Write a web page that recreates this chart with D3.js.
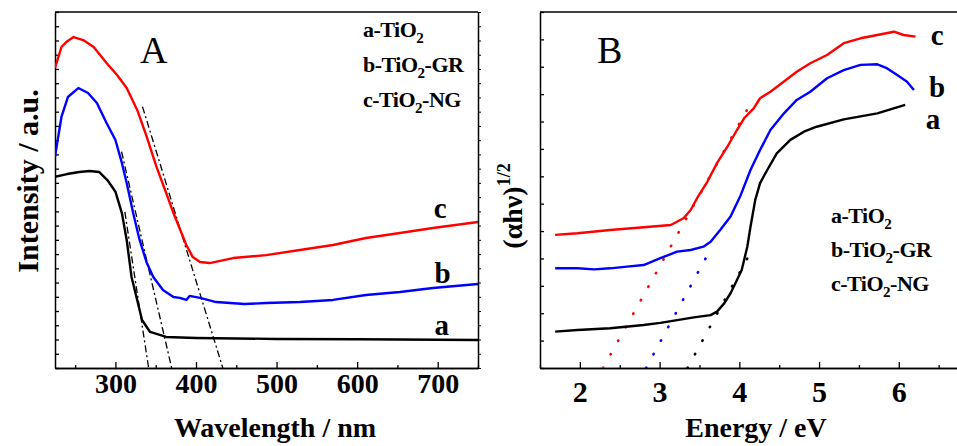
<!DOCTYPE html>
<html><head><meta charset="utf-8">
<script src="https://cdn.jsdelivr.net/npm/d3@7"></script>
<style>
body{margin:0;background:#fff}
</style></head>
<body><svg id="chart" width="957" height="446"></svg>
<script>
// ---- panel A : UV-vis spectra, wavelength (nm) vs intensity (a.u.)
var nmA_a  = [225,240,255,268,280,290,300,308,314,320,327,333,343,363,400,500,600,750];
var intA_a = [13.43,13.62,13.76,13.83,13.76,13.20,12.38,10.88,8.99,6.39,4.78,3.37,2.53,2.18,2.11,2.04,2.02,1.97];
var nmA_b  = [225,233,241,254,266,277,289,300,308,314,322,330,339,347,359,372,380,388,392,405,425,460,487,529,570,611,653,694,750];
var intA_b = [14.84,17.63,19.03,19.66,19.31,18.61,17.21,16.01,14.40,12.99,10.88,8.99,7.37,6.39,5.48,4.99,4.92,4.78,5.06,4.92,4.63,4.49,4.56,4.63,4.78,5.13,5.34,5.62,5.90];
var nmA_c  = [225,233,239,248,260,273,289,302,314,327,339,351,363,372,382,388,396,405,417,446,487,529,570,611,653,694,750];
var intA_c = [21.07,22.54,22.89,23.24,23.03,22.54,21.42,20.58,19.66,18.12,16.22,14.12,12.29,10.88,9.48,8.64,7.79,7.44,7.37,7.72,7.93,8.29,8.64,9.13,9.48,9.83,10.25];
// tangent lines (edge extrapolation) [nm, intensity]
var tanA_a = [[311.7,10.96],[341.2,0]];
var tanA_b = [[307.6,15.19],[369.8,0]];
var tanA_c = [[333.6,18.35],[433.3,0]];
var ticksA = [300,400,500,600,700];

// ---- panel B : Tauc plot, energy (eV) vs (ahv)^1/2
var eB_a   = [1.69,1.97,2.38,2.80,3.01,3.22,3.43,3.64,3.72,3.81,3.89,3.97,4.03,4.10,4.14,4.20,4.26,4.35,4.47,4.64,4.81,4.97,5.31,5.73,6.08];
var valB_a = [1.33,1.39,1.45,1.57,1.65,1.75,1.85,1.93,2.06,2.36,2.73,3.21,3.58,4.43,5.16,6.14,6.75,7.23,7.84,8.33,8.63,8.81,9.08,9.30,9.61];
var eB_b   = [1.69,1.97,2.18,2.38,2.59,2.80,3.01,3.22,3.39,3.55,3.64,3.76,3.89,4.01,4.14,4.26,4.39,4.56,4.72,4.89,5.10,5.31,5.52,5.73,5.85,5.98,6.10,6.19];
var valB_b = [3.64,3.64,3.60,3.64,3.70,3.76,4.01,4.25,4.31,4.43,4.61,5.04,5.53,6.26,7.23,7.96,8.69,9.30,9.79,10.09,10.58,10.88,11.07,11.09,10.95,10.70,10.46,10.15];
var eB_c   = [1.69,1.97,2.38,2.80,3.14,3.30,3.39,3.47,3.60,3.72,3.85,3.97,4.06,4.18,4.26,4.39,4.56,4.72,4.89,5.10,5.31,5.52,5.73,5.94,6.06,6.21];
var valB_c = [4.86,4.92,5.04,5.14,5.22,5.47,5.77,6.20,6.81,7.48,8.08,8.69,9.12,9.48,9.85,10.09,10.46,10.82,11.13,11.43,11.86,12.04,12.16,12.28,12.16,12.10];
var tanB_a = [[3.35,0],[4.10,4.0]];
var tanB_b = [[2.83,0],[3.60,4.13]];
var tanB_c = [[2.29,0],[4.12,9.55]];
var ticksB = [2,3,4,5,6];

var legendNames = ['a-TiO2','b-TiO2-GR','c-TiO2-NG'];
var colors = ['#000000','#0000ff','#ff0000'];
var FONT = '"Liberation Serif","Times New Roman",Tinos,serif';

var svg = d3.select('#chart');

var xA = d3.scaleLinear().domain([225,750]).range([55,478]);
var yA = d3.scaleLinear().domain([0,25]).range([368,12]);
var xB = d3.scaleLinear().domain([1.5,6.73]).range([540,957]);
var yB = d3.scaleLinear().domain([0,13]).range([368,12]);

var defs = svg.append('defs');
defs.append('clipPath').attr('id','clipA').append('rect').attr('x',55).attr('y',12).attr('width',423).attr('height',356);
defs.append('clipPath').attr('id','clipB').append('rect').attr('x',540).attr('y',12).attr('width',417).attr('height',356);

function zip(xs, ys){ return xs.map((d,i)=>[d, ys[i]]); }

function panel(x, y, clip, majors, minors, fontSize, labelY){
  var g = svg.append('g');
  // bottom axis, ticks inside
  var bot = g.append('g').attr('transform','translate(0,368)')
    .call(d3.axisBottom(x).tickValues(majors).tickSizeInner(-6).tickSizeOuter(0).tickFormat(d3.format('d')));
  bot.attr('font-family', FONT);
  bot.selectAll('text').attr('y', labelY).attr('dy',0).attr('font-family',FONT)
    .attr('font-size',fontSize).attr('font-weight','bold');
  g.append('g').attr('transform','translate(0,368)')
    .call(d3.axisBottom(x).tickValues(minors).tickSizeInner(-3).tickSizeOuter(0).tickFormat(''));
  // left axis, unlabeled ticks
  g.append('g').attr('transform','translate('+x.range()[0]+',0)')
    .call(d3.axisLeft(y).ticks(y.domain()[1]).tickSizeInner(-4).tickSizeOuter(0).tickFormat(''));
  // top frame
  g.append('line').attr('x1',x.range()[0]).attr('x2',x.range()[1]).attr('y1',12).attr('y2',12).attr('stroke','#000').attr('stroke-width',1.5);
  g.selectAll('.domain').attr('stroke-width',1.5);
  g.selectAll('.tick line').attr('stroke-width',1.3);
  return g.append('g').attr('clip-path','url(#'+clip+')');
}

// ---------- panel A
var plotA = panel(xA, yA, 'clipA', ticksA, d3.range(250,751,100), 28, 25);
// right frame of A with short outside ticks
var rA = svg.append('g').attr('transform','translate(478,0)')
  .call(d3.axisRight(yA).ticks(25).tickSizeInner(3).tickSizeOuter(0).tickFormat(''));
rA.selectAll('.domain').attr('stroke-width',1.5);

var lineA = d3.line().x(d=>xA(d[0])).y(d=>yA(d[1]));
[tanA_a, tanA_b, tanA_c].forEach(t=>{
  plotA.append('path').attr('d', lineA(t)).attr('fill','none')
    .attr('stroke','#000').attr('stroke-width',1.3).attr('stroke-dasharray','7,3,2,3');
});
[zip(nmA_a,intA_a), zip(nmA_b,intA_b), zip(nmA_c,intA_c)].forEach((s,i)=>{
  plotA.append('path').attr('d', lineA(s)).attr('fill','none')
    .attr('stroke',colors[i]).attr('stroke-width',2.4).attr('stroke-linejoin','round');
});

// ---------- panel B
var plotB = panel(xB, yB, 'clipB', ticksB, d3.range(1.5,6.6,1), 30, 34);
var lineB = d3.line().x(d=>xB(d[0])).y(d=>yB(d[1]));
[tanB_a, tanB_b, tanB_c].forEach((t,i)=>{
  plotB.append('path').attr('d', lineB(t)).attr('fill','none')
    .attr('stroke',colors[i]).attr('stroke-width',2.6).attr('stroke-linecap','round')
    .attr('stroke-dasharray','0.5,15');
});
[zip(eB_a,valB_a), zip(eB_b,valB_b), zip(eB_c,valB_c)].forEach((s,i)=>{
  plotB.append('path').attr('d', lineB(s)).attr('fill','none')
    .attr('stroke',colors[i]).attr('stroke-width',2.4).attr('stroke-linejoin','round');
});

// ---------- texts
function txt(x, y, size, weight, anchor){
  return svg.append('text').attr('x',x).attr('y',y).attr('font-family',FONT)
    .attr('font-size',size).attr('font-weight',weight).attr('text-anchor',anchor||'start');
}
function legend(x0, y0, step){
  legendNames.forEach((name,i)=>{
    var p = name.split('2');
    var t = txt(x0, y0+i*step, 22, 'bold').attr('letter-spacing','-0.5');
    t.append('tspan').text(p[0]);
    t.append('tspan').text('2').attr('dy',6).attr('font-size',15);
    t.append('tspan').text(p[1]).attr('dy',-6);
  });
}
legend(363, 37, 35);
legend(831, 223, 34);

txt(140, 63, 38, 'normal').text('A');
txt(597, 63, 38, 'normal').text('B');

// curve letters
txt(xA(703), 218, 29, 'bold', 'middle').text('c');
txt(xA(706), 283, 29, 'bold', 'middle').text('b');
txt(xA(705), 335, 29, 'bold', 'middle').text('a');
txt(xB(6.43), 129, 29, 'bold', 'middle').text('a');
txt(xB(6.48), 97, 29, 'bold', 'middle').text('b');
txt(xB(6.48), 45, 29, 'bold', 'middle').text('c');

txt(275, 437, 28, 'bold', 'middle').text('Wavelength / nm');
txt(756, 437, 28, 'bold', 'middle').text('Energy / eV');
txt(0, 0, 30, 'bold', 'middle').attr('transform','translate(38,181) rotate(-90)').text('Intensity / a.u.');
var yl = txt(0, 0, 28, 'bold', 'middle').attr('transform','translate(522,206) rotate(-90)');
yl.append('tspan').text('(αhν)');
yl.append('tspan').text('1/2').attr('dy',-12).attr('font-size',18);
</script>
</body></html>
